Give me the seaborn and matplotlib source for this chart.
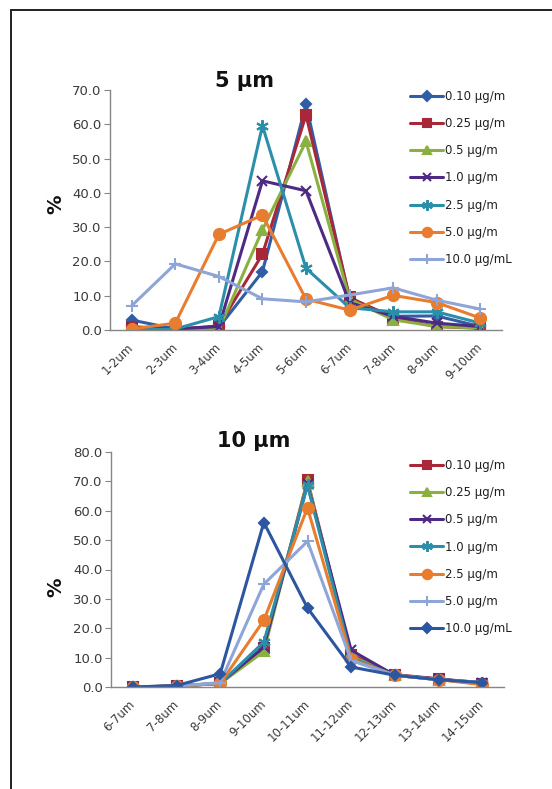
import numpy as np
import pandas as pd
import matplotlib.pyplot as plt
import seaborn as sns
from matplotlib.lines import Line2D

# size bins
sizes_5 = ["1-2um", "2-3um", "3-4um", "4-5um", "5-6um", "6-7um", "7-8um", "8-9um", "9-10um"]
sizes_10 = ["6-7um", "7-8um", "8-9um", "9-10um", "10-11um", "11-12um", "12-13um", "13-14um", "14-15um"]

# 5 um particles, % per bin
conc_5 = ["0.10 µg/m", "0.25 µg/m", "0.5 µg/m", "1.0 µg/m", "2.5 µg/m", "5.0 µg/m", "10.0 µg/mL"]
p5_010 = [2.9, 0.3, 0.8, 17.0, 65.8, 9.0, 4.0, 4.1, 1.0]
p5_025 = [1.0, 0.2, 1.2, 22.1, 62.7, 9.5, 3.5, 1.0, 0.5]
p5_05 = [0.0, 0.0, 0.2, 29.2, 55.0, 9.0, 3.0, 1.0, 0.6]
p5_10 = [0.5, 0.3, 1.0, 43.5, 40.6, 8.0, 4.0, 2.0, 1.0]
p5_25 = [0.0, 0.3, 3.9, 59.6, 18.0, 6.5, 5.3, 5.3, 2.0]
p5_50 = [0.3, 2.0, 27.9, 33.5, 9.0, 5.8, 10.1, 8.0, 3.5]
p5_100 = [7.1, 19.3, 15.6, 9.1, 8.2, 10.2, 12.3, 8.7, 6.1]

# 10 um particles, % per bin
conc_10 = ["0.10 µg/m", "0.25 µg/m", "0.5 µg/m", "1.0 µg/m", "2.5 µg/m", "5.0 µg/m", "10.0 µg/mL"]
p10_010 = [0.0, 0.4, 1.2, 13.3, 70.3, 11.0, 4.2, 2.8, 1.0]
p10_025 = [0.0, 0.3, 1.2, 12.1, 70.0, 10.5, 4.0, 2.5, 1.2]
p10_05 = [0.0, 0.3, 1.3, 13.6, 69.0, 12.5, 4.0, 2.7, 1.5]
p10_10 = [0.0, 0.3, 1.2, 15.3, 68.7, 10.0, 4.0, 2.5, 1.5]
p10_25 = [0.0, 0.3, 1.2, 22.7, 61.0, 9.5, 4.0, 2.5, 0.8]
p10_50 = [0.0, 0.3, 1.5, 35.0, 49.6, 9.0, 4.0, 2.5, 1.5]
p10_100 = [0.0, 0.5, 4.5, 56.0, 26.9, 6.8, 4.0, 2.5, 1.5]

blue, red, green, purple = "#2F5DA6", "#A8283A", "#8AB040", "#4E2A84"
teal, orange, lblue = "#2B8FAA", "#E87D2F", "#8EA5D8"

style5 = [(blue, "D", 5.5), (red, "s", 7), (green, "^", 7), (purple, "x", 7),
          (teal, (6, 2, 0), 9), (orange, "o", 8), (lblue, "+", 9)]
style10 = [(red, "s", 7), (green, "^", 7), (purple, "x", 7), (teal, (6, 2, 0), 9),
           (orange, "o", 8), (lblue, "+", 9), ("#2D56A0", "D", 5.5)]

sns.set_style("white")
plt.rcParams["font.family"] = ["DejaVu Sans"]
grey = "#3A3A3A"

fig = plt.figure(figsize=(5.52, 7.89), dpi=100)


def draw(rect, sizes, labels, series, styles, ymax, title, title_xy, pct_xy, leg_xy):
    ax = fig.add_axes(rect)
    x = np.arange(len(sizes))
    for lab, vals, (c, m, ms) in zip(labels, series, styles):
        sns.lineplot(x=x, y=vals, ax=ax, label=lab, color=c, marker=m, markersize=ms,
                     mec=c, mfc=c, mew=1.5, lw=2.2, sort=False, estimator=None)
    ax.set_xlim(-0.5, len(sizes) - 0.5)
    ax.set_ylim(0, ymax)
    ax.set_yticks(np.arange(0, ymax + 1, 10))
    ax.set_yticklabels([f"{v:.1f}" for v in np.arange(0, ymax + 1, 10)], fontsize=9.5, color=grey)
    ax.set_xticks(x)
    ax.set_xticklabels(sizes, rotation=45, ha="right", va="center", rotation_mode="anchor",
                       fontsize=8.5, color=grey)
    ax.set_xticks(np.arange(-0.5, len(sizes)), minor=True)
    ax.tick_params(axis="x", which="major", length=0, pad=11)
    ax.tick_params(axis="x", which="minor", length=4, color="#868686", direction="out")
    ax.tick_params(axis="y", length=4, color="#868686", direction="out", pad=2, left=True)
    for s in ["top", "right"]:
        ax.spines[s].set_visible(False)
    for s in ["left", "bottom"]:
        ax.spines[s].set_color("#868686")
        ax.spines[s].set_linewidth(1.0)
    ax.set_xlabel("")
    ax.set_ylabel("")
    handles, labs = ax.get_legend_handles_labels()
    ax.get_legend().remove()
    fig.legend(handles, labs, loc="upper left", bbox_to_anchor=leg_xy, frameon=False,
               fontsize=8.5, labelspacing=1.2, handlelength=2.8, handletextpad=0.15,
               borderaxespad=0, borderpad=0, markerscale=0.85, labelcolor="#202020")
    fig.text(title_xy[0], title_xy[1], title, fontsize=15, fontweight="bold",
             ha="center", va="center", color="#111111")
    fig.text(pct_xy[0], pct_xy[1], "%", fontsize=14, fontweight="bold", rotation=90,
             ha="center", va="center", color="#111111")
    return ax


W, H = 552, 789
draw([110 / W, 1 - 330 / H, 392 / W, 240 / H], sizes_5, conc_5,
     [p5_010, p5_025, p5_05, p5_10, p5_25, p5_50, p5_100], style5, 70, "5 µm",
     (245 / W, 1 - 81 / H), (56 / W, 1 - 204 / H), (410 / W, 1 - 90 / H))
draw([111 / W, 1 - 687 / H, 393 / W, 235 / H], sizes_10, conc_10,
     [p10_010, p10_025, p10_05, p10_10, p10_25, p10_50, p10_100], style10, 80, "10 µm",
     (254 / W, 1 - 441 / H), (56 / W, 1 - 587 / H), (410 / W, 1 - 459 / H))

# page frame
fig.add_artist(Line2D([11 / W, 11 / W], [0, 1 - 10 / H], color="#202020", lw=1.4))
fig.add_artist(Line2D([11 / W, 1], [1 - 10 / H, 1 - 10 / H], color="#202020", lw=1.4))

fig.savefig("out.png", dpi=100)
